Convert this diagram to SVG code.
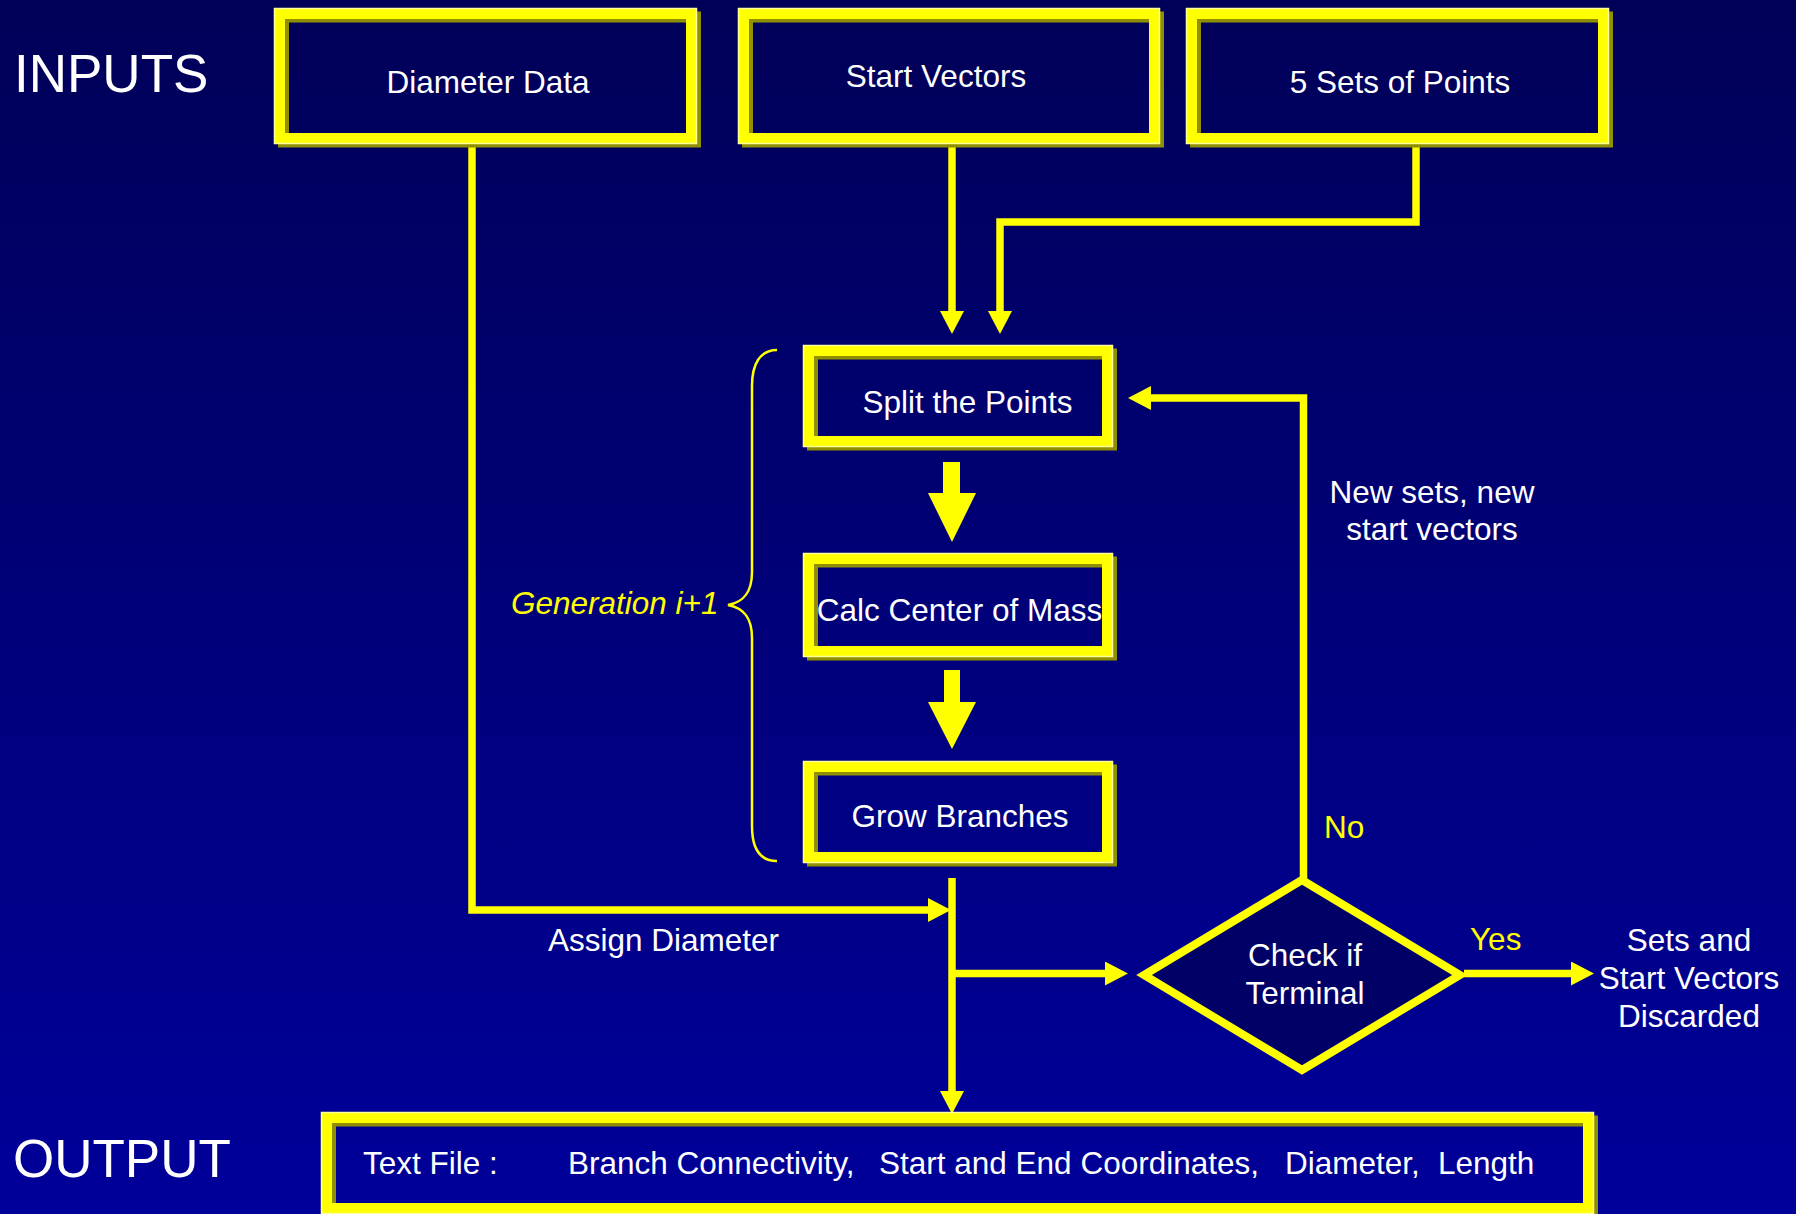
<svg xmlns="http://www.w3.org/2000/svg" width="1796" height="1214" viewBox="0 0 1796 1214">
<defs>
<linearGradient id="bg" x1="0" y1="0" x2="0" y2="1">
<stop offset="0" stop-color="#000058"/>
<stop offset="1" stop-color="#00009A"/>
</linearGradient>
<marker id="ah" markerUnits="userSpaceOnUse" markerWidth="23" markerHeight="24" refX="0" refY="12" orient="auto" viewBox="0 0 23 24">
<path d="M0,0 L23,12 L0,24 Z" fill="#FFFF00"/>
</marker>
<style>
.t{font-family:"Liberation Sans",Arial,sans-serif;font-size:31.5px;fill:#FFFFFF}
.c{text-anchor:middle}
.y{fill:#FFFF00}
.big{font-size:53px}
.bx{fill:none;stroke:#FFFF00;stroke-width:11}
.sh{fill:none;stroke:#8F8F00;stroke-width:11}
.hl{fill:none;stroke:#FFFF99;stroke-width:1.5}
.ln{fill:none;stroke:#FFFF00;stroke-width:7.5;stroke-linejoin:miter}
</style>
</defs>
<rect width="1796" height="1214" fill="url(#bg)"/>

<text class="t big" x="14" y="92">INPUTS</text>
<text class="t big" x="13" y="1177">OUTPUT</text>

<g id="connectors">
<path class="ln" d="M472,144 V910 H928" marker-end="url(#ah)"/>
<path class="ln" d="M952,144 V311" marker-end="url(#ah)"/>
<path class="ln" d="M1416,144 V222 H1000 V311" marker-end="url(#ah)"/>
<path class="ln" d="M952,878 V1091" marker-end="url(#ah)"/>
<path class="ln" d="M955,973.5 H1105" marker-end="url(#ah)"/>
<path class="ln" d="M1464,973.5 H1571" marker-end="url(#ah)"/>
<path class="ln" d="M1303.5,880 V398 H1151" marker-end="url(#ah)"/>
<polygon points="943,462 960,462 960,493 976,493 952,542 928,493 943,493" fill="#FFFF00"/>
<polygon points="944,670 960,670 960,702 976,702 952,749 928,702 944,702" fill="#FFFF00"/>
<path d="M777,350 C760,350 752,364 752,386 L752,572 C752,592 744,602 728,605 C744,608 752,618 752,638 L752,826 C752,848 760,861 777,861" fill="none" stroke="#FFFF00" stroke-width="2.5"/>
</g>

<g id="diameter-data">
<rect class="sh" x="283.5" y="17" width="412" height="125"/>
<rect class="bx" x="279.5" y="13.5" width="412" height="125"/>
<rect class="hl" x="274.5" y="8.5" width="422" height="135"/>
<text class="t c" x="488" y="93">Diameter Data</text>
</g>

<g id="start-vectors">
<rect class="sh" x="747.5" y="17" width="411" height="125"/>
<rect class="bx" x="743.5" y="13.5" width="411" height="125"/>
<rect class="hl" x="738.5" y="8.5" width="421" height="135"/>
<text class="t c" x="936" y="87">Start Vectors</text>
</g>

<g id="five-sets">
<rect class="sh" x="1195.5" y="17" width="412" height="125"/>
<rect class="bx" x="1191.5" y="13.5" width="412" height="125"/>
<rect class="hl" x="1186.5" y="8.5" width="422" height="135"/>
<text class="t c" x="1400" y="93">5 Sets of Points</text>
</g>

<g id="split">
<rect class="sh" x="812.5" y="354" width="299" height="91"/>
<rect class="bx" x="808.5" y="350.5" width="299" height="91"/>
<rect class="hl" x="803.5" y="345.5" width="309" height="101"/>
<text class="t c" x="967.5" y="413">Split the Points</text>
</g>

<g id="calc">
<rect class="sh" x="812.5" y="562" width="299" height="93"/>
<rect class="bx" x="808.5" y="558.5" width="299" height="93"/>
<rect class="hl" x="803.5" y="553.5" width="309" height="103"/>
<text class="t c" x="959.5" y="621">Calc Center of Mass</text>
</g>

<g id="grow">
<rect class="sh" x="812.5" y="770" width="299" height="91"/>
<rect class="bx" x="808.5" y="766.5" width="299" height="91"/>
<rect class="hl" x="803.5" y="761.5" width="309" height="101"/>
<text class="t c" x="960" y="827">Grow Branches</text>
</g>

<g id="generation-label">
<text class="t y" x="511" y="614" font-style="italic" font-size="31">Generation i+1</text>
</g>

<g id="check-terminal">
<polygon points="1302,880 1460,975 1302,1070 1144,975" fill="#000066" stroke="#FFFF00" stroke-width="8"/>
<text class="t c" x="1305" y="966" font-size="31">Check if</text>
<text class="t c" x="1305" y="1004" font-size="31">Terminal</text>
</g>

<g id="labels">
<text class="t c" x="663.5" y="951">Assign Diameter</text>
<text class="t y" x="1470" y="950">Yes</text>
<text class="t y" x="1324" y="838">No</text>
<text class="t c" x="1432" y="503">New sets, new</text>
<text class="t c" x="1432" y="540">start vectors</text>
</g>

<g id="discarded">
<text class="t c" x="1689" y="951">Sets and</text>
<text class="t c" x="1689" y="989">Start Vectors</text>
<text class="t c" x="1689" y="1027">Discarded</text>
</g>

<g id="output-file">
<rect class="sh" x="330.5" y="1121" width="1262" height="91"/>
<rect class="bx" x="326.5" y="1117.5" width="1262" height="91"/>
<rect class="hl" x="321.5" y="1112.5" width="1272" height="101"/>
<text class="t" x="363" y="1174">Text File :</text>
<text class="t" x="568" y="1174">Branch Connectivity,</text>
<text class="t" x="879" y="1174">Start and End Coordinates,</text>
<text class="t" x="1285" y="1174">Diameter,</text>
<text class="t" x="1438" y="1174">Length</text>
</g>
</svg>
